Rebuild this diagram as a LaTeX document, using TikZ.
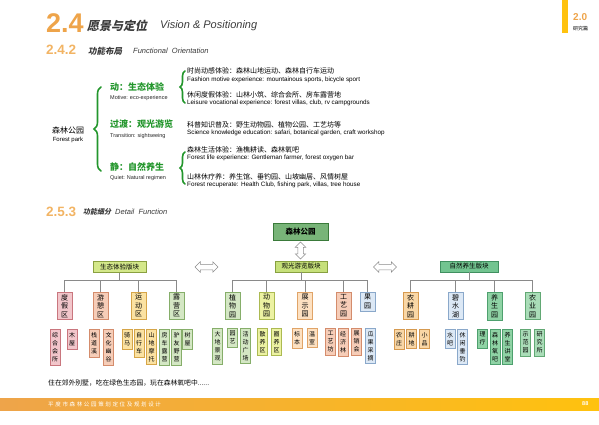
\documentclass[tikz,border=0pt]{standalone}
\usepackage{fontspec}
\setmainfont{Liberation Sans}
\newfontfamily\cjk{Noto Sans CJK SC}
\newfontfamily\cjksl[FakeSlant=0.2]{Noto Sans CJK SC}
\newfontfamily\cjkls[LetterSpace=30]{Noto Sans CJK SC}
\usetikzlibrary{shapes.arrows,decorations.pathreplacing}
\definecolor{orA}{HTML}{EEA44A}
\definecolor{orB}{HTML}{F2B464}
\definecolor{barY}{HTML}{FFC20E}
\definecolor{footR}{HTML}{FFC20E}
\definecolor{hdr}{HTML}{3A3A3A}
\definecolor{grn}{HTML}{23962C}
\definecolor{lnc}{HTML}{8A8A8A}
\definecolor{pkF}{HTML}{F2C6CB}\definecolor{pkD}{HTML}{C9767E}
\definecolor{saF}{HTML}{F6CDB8}\definecolor{saD}{HTML}{D48C6C}
\definecolor{yeF}{HTML}{FBE2A2}\definecolor{yeD}{HTML}{D6A548}
\definecolor{grF}{HTML}{D4E7C4}\definecolor{grD}{HTML}{86AE6A}
\definecolor{ygF}{HTML}{ECF2A2}\definecolor{ygD}{HTML}{ACBA52}
\definecolor{orF}{HTML}{FDE1C2}\definecolor{orD}{HTML}{E0A468}
\definecolor{blF}{HTML}{DCE8F5}\definecolor{blD}{HTML}{8AA8CA}
\definecolor{onF}{HTML}{F9D7A6}\definecolor{onD}{HTML}{D69A50}
\definecolor{mgF}{HTML}{8FD3A5}\definecolor{mgD}{HTML}{4EA06E}
\definecolor{lgF}{HTML}{AADDB8}\definecolor{lgD}{HTML}{62A874}
\definecolor{l1aF}{HTML}{D4E88A}\definecolor{l1aD}{HTML}{8AA040}
\definecolor{l1bF}{HTML}{C6E07A}\definecolor{l1bD}{HTML}{88A040}
\definecolor{l1cF}{HTML}{72C490}\definecolor{l1cD}{HTML}{409060}
\definecolor{rootF}{HTML}{78B478}\definecolor{rootD}{HTML}{3A7A3A}
\tikzset{
  txt/.style={anchor=west, inner sep=0pt, text=black},
  zh/.style={txt, font=\cjk\fontsize{7}{8}\selectfont},
  en/.style={txt, font=\fontsize{6.3}{7}\selectfont},
  gtitle/.style={txt, text=grn, font=\cjk\bfseries\fontsize{9}{10}\selectfont},
  gsub/.style={txt, text=black!85, font=\fontsize{5.5}{6}\selectfont},
  bracestyle/.style={draw=grn, line width=1.6pt, line cap=round, decorate, decoration={brace, amplitude=#1}},
  lvA/.style={draw, line width=0.4pt, inner sep=0pt, minimum height=11pt, font=\cjk\fontsize{6.5}{7}\selectfont},
  lvB/.style={draw, line width=0.4pt, anchor=north, align=center, inner xsep=4pt, inner ysep=2pt, font=\cjk\fontsize{7}{8.5}\selectfont},
  lvC/.style={draw, line width=0.4pt, anchor=north, align=center, inner xsep=2pt, inner ysep=3pt, font=\cjk\fontsize{6}{8}\selectfont},
  pk/.style={fill=pkF, draw=pkD}, sa/.style={fill=saF, draw=saD},
  ye/.style={fill=yeF, draw=yeD}, gr/.style={fill=grF, draw=grD},
  yg/.style={fill=ygF, draw=ygD}, orr/.style={fill=orF, draw=orD},
  bl/.style={fill=blF, draw=blD}, on/.style={fill=onF, draw=onD},
  mg/.style={fill=mgF, draw=mgD}, lg/.style={fill=lgF, draw=lgD},
  hollow/.style={double arrow, draw=black!45, fill=white, line width=0.5pt, inner sep=2.5pt, double arrow head extend=2.5pt},
  conn/.style={draw=lnc, line width=0.5pt},
}
\begin{document}
\begin{tikzpicture}[x=1pt,y=-1pt]
\useasboundingbox (0,0) rectangle (599,424);
% ---------- header ----------
\node[txt, text=orA, font=\bfseries\fontsize{27}{28}\selectfont] (h24) at (46,23) {2.4};
\node[txt, text=hdr, font=\cjksl\bfseries\fontsize{12}{13}\selectfont] (h24zh) at (87,26) {愿景与定位};
\node[txt, text=hdr, font=\itshape\fontsize{11}{12}\selectfont] (h24en) at (160,26) {Vision \& Positioning};
\node[txt, text=orB, font=\bfseries\fontsize{13.5}{14}\selectfont] (h242) at (46,50) {2.4.2};
\node[txt, text=hdr, font=\cjksl\bfseries\fontsize{8.5}{9}\selectfont] (h242zh) at (88,51) {功能布局};
\node[txt, text=hdr, font=\itshape\fontsize{7.5}{8}\selectfont] (h242en) at (133,51) {Functional\ \ Orientation};
% top right
\fill[barY] (562,0) rectangle (568,33);
\node[txt, text=orA, font=\bfseries\fontsize{10}{11}\selectfont] (ver) at (573,17) {2.0};
\node[txt, font=\cjk\fontsize{5}{6}\selectfont] (yjp) at (573,29) {研究篇};
% ---------- functional orientation ----------
\node[txt, anchor=center, font=\cjk\fontsize{8}{9}\selectfont] (fp) at (68,130) {森林公园};
\node[txt, anchor=center, font=\fontsize{6}{7}\selectfont] (fpen) at (68,140) {Forest park};
\draw[bracestyle=7pt] (101,171) -- (101,87);
\node[gtitle] (g1) at (110,87) {动：生态体验};
\node[gsub] (g1e) at (110,98) {Motive: eco-experience};
\node[gtitle] (g2) at (110,124) {过渡：观光游览};
\node[gsub] (g2e) at (110,136) {Transition: sightseeing};
\node[gtitle] (g3) at (110,167) {静：自然养生};
\node[gsub] (g3e) at (110,178) {Quiet: Natural regimen};
\draw[bracestyle=5pt] (185,103) -- (185,71);
\draw[bracestyle=5pt] (185,184) -- (185,152);
\node[zh] (r1) at (187,71) {时尚动感体验：森林山地运动、森林自行车运动};
\node[en] (r1e) at (187,80) {Fashion motive experience: mountainous sports, bicycle sport};
\node[zh] (r2) at (187,95) {休闲度假体验：山林小筑、综合会所、房车露营地};
\node[en] (r2e) at (187,103) {Leisure vocational experience: forest villas, club, rv campgrounds};
\node[zh] (r3) at (187,125) {科普知识普及：野生动物园、植物公园、工艺坊等};
\node[en] (r3e) at (187,133) {Science knowledge education: safari, botanical garden, craft workshop};
\node[zh] (r4) at (187,150) {森林生活体验：渔樵耕读、森林氧吧};
\node[en] (r4e) at (187,158) {Forest life experience: Gentleman farmer, forest oxygen bar};
\node[zh] (r5) at (187,177) {山林休疗养：养生馆、垂钓园、山坡幽居、风情树屋};
\node[en] (r5e) at (187,185) {Forest recuperate: Health Club, fishing park, villas, tree house};
% ---------- detail function ----------
\node[txt, text=orB, font=\bfseries\fontsize{13.5}{14}\selectfont] (h253) at (46,212) {2.5.3};
\node[txt, text=hdr, font=\cjksl\bfseries\fontsize{7}{8}\selectfont] (h253zh) at (83,212) {功能细分};
\node[txt, text=hdr, font=\itshape\fontsize{7.5}{8}\selectfont] (h253en) at (115,212) {Detail\ \ Function};
% root and level 1
\node[draw=rootD, fill=rootF, line width=0.6pt, minimum width=55pt, minimum height=17pt, inner sep=0pt, font=\cjk\bfseries\fontsize{7.5}{8}\selectfont] (root) at (300.5,231.5) {森林公园};
\node[lvA, fill=l1aF, draw=l1aD, minimum width=53pt] (A) at (119.5,267) {生态体验版块};
\node[lvA, fill=l1bF, draw=l1bD, minimum width=52pt] (B) at (301,266.5) {观光游览版块};
\node[lvA, fill=l1cF, draw=l1cD, minimum width=58pt] (C) at (469,266.5) {自然养生版块};
\node[hollow, shape border rotate=90, minimum height=17pt] (dv) at (300.5,250.5) {};
\node[hollow, minimum height=23pt] (dh1) at (206.5,267) {};
\node[hollow, minimum height=23pt] (dh2) at (385,267) {};
% level 2 group A
\node[lvB,pk] (A1) at (64.5,292) {度\\假\\区};
\node[lvB,sa] (A2) at (100.5,292) {游\\憩\\区};
\node[lvB,ye] (A3) at (138.5,292) {运\\动\\区};
\node[lvB,gr] (A4) at (176.5,292) {露\\营\\区};
% level 2 group B
\node[lvB,gr] (B1) at (232.5,292) {植\\物\\园};
\node[lvB,yg] (B2) at (266.5,292) {动\\物\\园};
\node[lvB,orr] (B3) at (305,292) {展\\示\\园};
\node[lvB,sa] (B4) at (343.5,292) {工\\艺\\园};
\node[lvB,bl] (B5) at (367.5,292) {果\\园};
% level 2 group C
\node[lvB,on] (C1) at (410.5,292) {农\\耕\\园};
\node[lvB,bl] (C2) at (455.5,292) {碧\\水\\湖};
\node[lvB,mg] (C3) at (494.5,292) {养\\生\\园};
\node[lvB,lg] (C4) at (532.5,292) {农\\业\\园};
% connectors
\coordinate (busA) at (119.5,280);
\coordinate (busB) at (301,280);
\coordinate (busC) at (469,280);
\draw[conn] (A.south) -- (busA);
\draw[conn] (B.south) -- (busB);
\draw[conn] (C.south) -- (busC);
\foreach \n in {A1,A2,A3,A4} \draw[conn] (busA) -| (\n.north);
\foreach \n in {B1,B2,B3,B4,B5} \draw[conn] (busB) -| (\n.north);
\foreach \n in {C1,C2,C3,C4} \draw[conn] (busC) -| (\n.north);
% level 3 group A
\node[lvC,pk] (a1) at (55,329) {综\\合\\会\\所};
\node[lvC,pk] (a2) at (72,329) {木\\屋};
\node[lvC,sa] (a3) at (94,329) {栈\\道\\溪};
\node[lvC,sa] (a4) at (108.5,329) {文\\化\\幽\\谷};
\node[lvC,ye] (a5) at (127,329) {骑\\马};
\node[lvC,ye] (a6) at (139,329) {自\\行\\车};
\node[lvC,ye] (a7) at (151.5,329) {山\\地\\摩\\托};
\node[lvC,gr] (a8) at (164.5,329) {房\\车\\露\\营};
\node[lvC,gr] (a9) at (176.5,329) {驴\\友\\野\\营};
\node[lvC,gr] (a10) at (187.5,329) {树\\屋};
% level 3 group B
\node[lvC,gr] (b1) at (217.5,328) {大\\地\\景\\观};
\node[lvC,gr] (b2) at (232.5,328) {园\\艺};
\node[lvC,gr] (b3) at (245.5,328) {活\\动\\广\\场};
\node[lvC,yg] (b4) at (262.5,328) {散\\养\\区};
\node[lvC,yg] (b5) at (276.5,328) {圈\\养\\区};
\node[lvC,orr] (b6) at (297,328) {标\\本};
\node[lvC,orr] (b7) at (312,328) {温\\室};
\node[lvC,sa] (b8) at (330.5,328) {工\\艺\\坊};
\node[lvC,sa] (b9) at (343,328) {经\\济\\林};
\node[lvC,sa] (b10) at (356.5,328) {展\\销\\会};
\node[lvC,bl] (b11) at (370.5,328) {瓜\\果\\采\\摘};
% level 3 group C
\node[lvC,on] (c1) at (399,329) {农\\庄};
\node[lvC,on] (c2) at (411.5,329) {耕\\地};
\node[lvC,on] (c3) at (424.5,329) {小\\品};
\node[lvC,bl] (c4) at (450,329) {水\\吧};
\node[lvC,bl] (c5) at (462.5,329) {休\\闲\\垂\\钓};
\node[lvC,mg] (c6) at (482.5,329) {理\\疗};
\node[lvC,mg] (c7) at (495,329) {森\\林\\氧\\吧};
\node[lvC,mg] (c8) at (507.5,329) {养\\生\\讲\\堂};
\node[lvC,lg] (c9) at (525.5,329) {示\\范\\园};
\node[lvC,lg] (c10) at (539.5,329) {研\\究\\所};
% bottom text
\node[txt, font=\cjk\fontsize{6.8}{8}\selectfont] (slogan) at (48,383) {住在郊外别墅，吃在绿色生态园，玩在森林氧吧中......};
% footer
\shade[left color=orA, right color=footR] (0,398) rectangle (599,410);
\node[txt, text=white, font=\cjkls\fontsize{5.5}{6}\selectfont] (foot) at (48,404) {平度市森林公园策划定位及规划设计};
\node[txt, text=white, font=\bfseries\fontsize{5.5}{6}\selectfont] (pg) at (582,404) {88};
\end{tikzpicture}
\end{document}
